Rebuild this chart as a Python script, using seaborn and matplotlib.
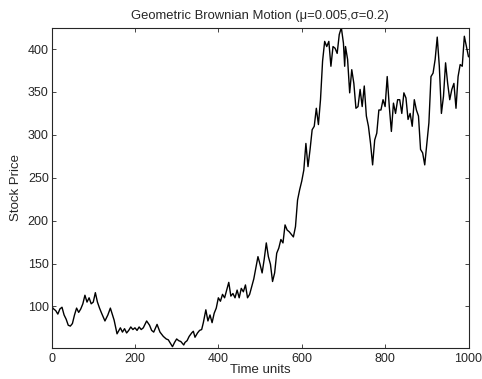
import numpy as np
import pandas as pd
import matplotlib
matplotlib.use("Agg")
import matplotlib.pyplot as plt
import seaborn as sns

# ---------- DATA ----------
time_units = [
    0, 5, 10, 15, 20, 25, 30, 35, 40, 45, 50, 55, 60, 65, 70, 75, 80, 85, 90, 95,
    100, 105, 110, 115, 120, 128, 135, 141, 150, 157, 165, 170, 175, 180, 185, 190, 195,
    200, 205, 210, 215, 220, 228, 235, 240, 245, 253, 260, 268, 275, 280, 285, 290, 295,
    300, 305, 310, 317, 320, 325, 330, 336, 340, 344, 350, 355, 360, 364, 370, 375, 380,
    385, 390, 395, 400, 405, 410, 415, 420, 425, 430, 435, 440, 445, 450, 455, 460, 465,
    470, 475, 480, 485, 490, 495, 500, 505, 510, 515, 520, 525, 530, 535, 540, 545, 550,
    555, 560, 565, 570, 575, 580, 585, 590, 595, 600, 605, 610, 615, 620, 625, 630, 635,
    640, 645, 650, 655, 660, 665, 670, 675, 680, 685, 690, 695, 700, 703, 705, 710, 715,
    720, 725, 730, 735, 740, 745, 750, 755, 760, 765, 770, 775, 780, 785, 790, 795, 800,
    805, 810, 815, 820, 825, 830, 835, 840, 845, 850, 855, 860, 865, 870, 875, 880, 885,
    890, 895, 900, 905, 910, 915, 920, 925, 930, 935, 940, 945, 950, 955, 960, 965, 970,
    975, 980, 985, 990, 995, 1000,
]
stock_price = [
    100, 97, 95, 91, 97, 99, 90, 85, 78, 77, 80, 90, 98, 93, 97, 103, 113, 105, 110, 103,
    105, 116, 105, 98, 92, 83, 90, 98, 84, 68, 75, 70, 74, 69, 72, 76, 73,
    75, 72, 76, 73, 75, 83, 78, 72, 70, 79, 70, 65, 62, 61, 57, 53, 58,
    62, 60, 59, 55, 58, 60, 65, 69, 71, 64, 69, 72, 73, 81, 96, 83, 90,
    81, 92, 98, 110, 106, 114, 110, 119, 128, 112, 115, 110, 119, 110, 121, 117, 125,
    110, 114, 123, 132, 145, 158, 149, 139, 155, 174, 158, 149, 129, 139, 162, 168, 178,
    174, 195, 189, 187, 184, 181, 193, 224, 236, 246, 259, 290, 263, 283, 306, 310, 331,
    312, 341, 386, 409, 403, 409, 380, 403, 401, 395, 417, 425, 407, 380, 403, 388, 349,
    376, 360, 331, 333, 353, 333, 357, 322, 310, 290, 265, 294, 302, 329, 329, 341, 333,
    368, 333, 304, 337, 325, 341, 341, 325, 349, 343, 318, 325, 310, 341, 329, 322, 283,
    279, 265, 290, 314, 368, 372, 388, 414, 380, 325, 345, 384, 360, 341, 353, 360, 331,
    368, 382, 380, 415, 403, 391,
]
x_ticks = [0, 200, 400, 600, 800, 1000]
y_ticks = [100, 150, 200, 250, 300, 350, 400]

df = pd.DataFrame({"t": time_units, "price": stock_price})

# ---------- PLOT ----------
sns.set_style("ticks")
plt.rcParams["font.family"] = ["Liberation Sans", "DejaVu Sans"]
plt.rcParams["xtick.direction"] = "in"
plt.rcParams["ytick.direction"] = "in"

fig = plt.figure(figsize=(4.82, 3.79), dpi=100)
ax = fig.add_axes([0.107, 0.083, 0.865, 0.844])

sns.lineplot(data=df, x="t", y="price", color="black", linewidth=1.0, ax=ax)

ax.set_xlim(0, 1000)
ax.set_ylim(52, 425)
ax.set_xticks(x_ticks)
ax.set_yticks(y_ticks)
ax.tick_params(labelsize=9, length=3, width=0.6, top=True, right=True, pad=2)
ax.tick_params(axis="x", pad=4)
for s in ax.spines.values():
    s.set_linewidth(0.8)

ax.set_xlabel("Time units", fontsize=9.5, labelpad=-1)
ax.set_ylabel("Stock Price", fontsize=9.5, labelpad=4)
ax.set_title("Geometric Brownian Motion (\u03bc=0.005,\u03c3=0.2)", fontsize=9.4, pad=6)

fig.savefig("out.png", dpi=100)
